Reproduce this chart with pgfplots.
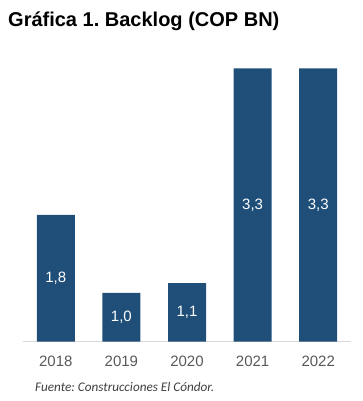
\documentclass[border=0pt]{standalone}
\usepackage{pgfplots}
\pgfplotsset{compat=1.18}
\usepackage{pgfplotstable}
\usepackage{fontspec}
\setmainfont{Liberation Sans}
\newfontfamily\calib{Carlito}
\definecolor{barblue}{RGB}{31,78,121}
\definecolor{ticktext}{RGB}{89,89,89}
\definecolor{baseline}{RGB}{217,217,217}
\definecolor{foot}{RGB}{64,64,64}
\pgfplotstableread{
x v
0 1.8
1 1.0
2 1.1
3 3.3
4 3.3
}\backlog
\frenchspacing
\begin{document}
\begin{tikzpicture}[x=1pt,y=1pt]
\path[use as bounding box] (0,0) rectangle (363,401);
\node[anchor=base west, inner sep=0, font=\fontsize{20}{24}\selectfont\bfseries] at (8,374.5) {Gráfica 1. Backlog (COP BN)};
\begin{axis}[
  at={(23pt,59.3pt)}, anchor=south west,
  scale only axis, width=328pt, height=273.4pt,
  xmin=-0.5, xmax=4.5, ymin=0.5, ymax=3.3,
  axis y line=none,
  axis x line*=bottom,
  x axis line style={-, draw=baseline, line width=1pt},
  xtick=data,
  xticklabels={2018,2019,2020,2021,2022},
  major tick length=0pt,
  xticklabel style={anchor=base, yshift=-24.9pt, text=ticktext, font=\fontsize{15}{17}\selectfont},
  ytick=\empty,
  /pgf/number format/assume math mode=true,
  clip=false,
]
\addplot[ybar, bar width=38pt, fill=barblue, draw=none,
  visualization depends on={\thisrow{v} \as \val},
  point meta=explicit,
  nodes near coords,
  nodes near coords style={/pgf/number format/fixed, /pgf/number format/fixed zerofill, /pgf/number format/precision=1, /pgf/number format/use comma, /pgf/number format/assume math mode=true},
  every node near coord/.append style={anchor=center, text=white, font=\fontsize{15}{17}\selectfont, yshift={-(\val-0.5)*48.82pt}},
] table[x=x, y=v, meta=v] {\backlog};
\end{axis}
\node[anchor=base west, inner sep=0, text=foot, font=\calib\itshape\fontsize{13.2}{15}\selectfont] at (35,9.5) {Fuente: Construcciones El Cóndor.};
\end{tikzpicture}
\end{document}
